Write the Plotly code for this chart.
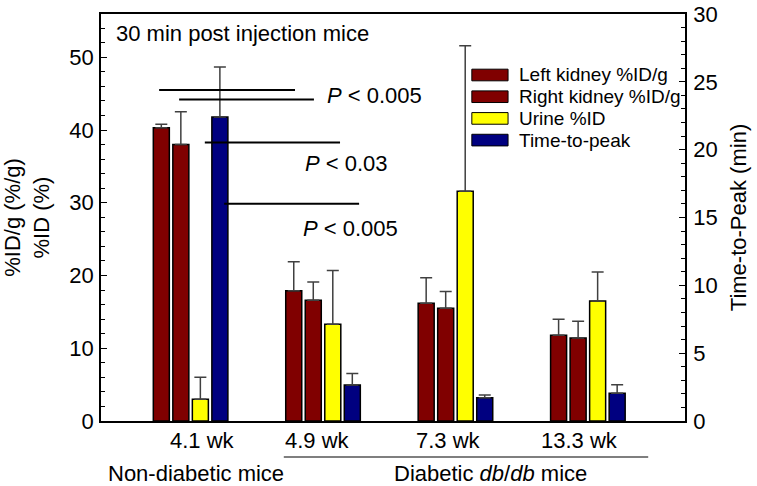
import plotly.graph_objects as go

# Datos
edades = ["4.1 wk", "4.9 wk", "7.3 wk", "13.3 wk"]
nombres = ["Left kidney %ID/g", "Right kidney %ID/g", "Urine %ID", "Time-to-peak"]
colores = ["#800000", "#800000", "#FFFF00", "#000080"]

rinon_izq = [40.3, 17.9, 16.2, 11.8]
rinon_izq_err = [0.5, 4.0, 3.5, 2.2]
rinon_der = [38.0, 16.6, 15.5, 11.4]
rinon_der_err = [4.5, 2.5, 2.3, 2.3]
orina = [3.0, 13.3, 31.6, 16.5]
orina_err = [3.0, 7.4, 20.0, 4.0]
tiempo_pico = [22.4, 2.65, 1.72, 2.04]      # eje derecho (min)
tiempo_pico_err = [3.7, 0.85, 0.2, 0.64]

series = [rinon_izq, rinon_der, orina, tiempo_pico]
errores = [rinon_izq_err, rinon_der_err, orina_err, tiempo_pico_err]

fuente = "Arial, Liberation Sans, sans-serif"
ancho = 0.121
paso = 0.1474

fig = go.Figure()

for i, (nombre, valores, err, color) in enumerate(zip(nombres, series, errores, colores)):
    fig.add_trace(go.Bar(
        x=edades, y=valores, name=nombre,
        width=ancho, offset=-0.295 + i * paso,
        marker=dict(color=color, line=dict(color="black", width=1.5)),
        error_y=dict(type="data", array=err, arrayminus=[0] * len(err), symmetric=False,
                     color="#404040", thickness=1.5, width=6),
        yaxis="y2" if i == 3 else "y",
        showlegend=False,
    ))

# Lineas de significancia
lineas = [(-0.251, 0.775, 45.5), (-0.10, 0.918, 44.2), (0.094, 1.115, 38.3), (0.240, 1.259, 29.85)]
for x0, x1, yv in lineas:
    fig.add_shape(type="line", xref="x", yref="y", x0=x0, x1=x1, y0=yv, y1=yv,
                  line=dict(color="black", width=2))

textos_p = [("<i>P</i> &lt; 0.005", 1.379, 44.8), ("<i>P</i> &lt; 0.03", 1.164, 35.4),
            ("<i>P</i> &lt; 0.005", 1.194, 26.5)]
for txt, xv, yv in textos_p:
    fig.add_annotation(text=txt, x=xv, y=yv, xref="x", yref="y", showarrow=False,
                       xanchor="center", yanchor="middle",
                       font=dict(size=22, color="black", family=fuente))

fig.add_annotation(text="30 min post injection mice", x=0.022, y=0.953, xref="paper", yref="paper",
                   xanchor="left", yanchor="middle", showarrow=False,
                   font=dict(size=22, color="black", family=fuente))

# Leyenda dibujada a mano (muestras anchas como en el original)
for i, (nombre, color) in enumerate(zip(nombres, colores)):
    yc = (421 - (75 + i * 21.7)) / 407
    fig.add_shape(type="rect", xref="paper", yref="paper", x0=0.635, x1=0.697,
                  y0=yc - 0.0143, y1=yc + 0.0143, fillcolor=color,
                  line=dict(color="black", width=1))
    fig.add_annotation(text=nombre, x=0.712, y=yc, xref="paper", yref="paper",
                       xanchor="left", yanchor="middle", showarrow=False,
                       font=dict(size=19, color="black", family=fuente))

# Etiquetas del eje x
desplaz = [0.076, -0.055, -0.065, -0.079]
for i, (ed, d) in enumerate(zip(edades, desplaz)):
    fig.add_annotation(text=ed, x=i + d, y=-0.0467, xref="x", yref="paper", showarrow=False,
                       xanchor="center", yanchor="middle",
                       font=dict(size=22, color="black", family=fuente))

fig.add_annotation(text="Non-diabetic mice", x=0.1635, y=-0.130, xref="paper", yref="paper",
                   xanchor="center", yanchor="middle", showarrow=False,
                   font=dict(size=22, color="black", family=fuente))
fig.add_annotation(text="Diabetic <i>db</i>/<i>db</i> mice", x=0.667, y=-0.130, xref="paper",
                   yref="paper", xanchor="center", yanchor="middle", showarrow=False,
                   font=dict(size=22, color="black", family=fuente))
fig.add_shape(type="line", xref="paper", yref="paper", x0=0.313, x1=0.937, y0=-0.0885, y1=-0.0885,
              line=dict(color="black", width=1.2))

fig.update_layout(
    width=757, height=486,
    margin=dict(l=101, r=72, t=14, b=65),
    plot_bgcolor="white", paper_bgcolor="white",
    font=dict(family=fuente, size=22, color="black"),
    xaxis=dict(type="category", range=[-0.69, 3.72], showticklabels=False, ticks="",
               showline=True, linecolor="black", linewidth=1.5, mirror=True,
               showgrid=False, zeroline=False),
    yaxis=dict(range=[0, 55.95], tickvals=[0, 10, 20, 30, 40, 50], ticks="inside", ticklen=6,
               tickcolor="black", showline=True, linecolor="black", linewidth=1.5,
               showgrid=False, zeroline=False, ticklabelstandoff=1, automargin=False,
               minor=dict(dtick=2, ticks="inside", ticklen=4, tickcolor="black"),
               title=dict(text="%ID/g (%/g)<br>%ID (%)", standoff=16,
                          font=dict(size=22, family=fuente))),
    yaxis2=dict(range=[0, 30], tickvals=[0, 5, 10, 15, 20, 25, 30], overlaying="y",
                side="right", ticks="inside", automargin=False,
                ticklen=6, tickcolor="black", showline=True, linecolor="black", linewidth=1.5,
                showgrid=False, zeroline=False, ticklabelstandoff=2,
                minor=dict(dtick=1, ticks="inside", ticklen=4, tickcolor="black"),
                title=dict(text="Time-to-Peak (min)", standoff=14,
                           font=dict(size=22, family=fuente))),
)

# Quitar el margen de la pagina para que la figura quede en la esquina
fig.write_html("out.html", config={"displayModeBar": False},
               post_script="document.body.style.margin='0px';")
